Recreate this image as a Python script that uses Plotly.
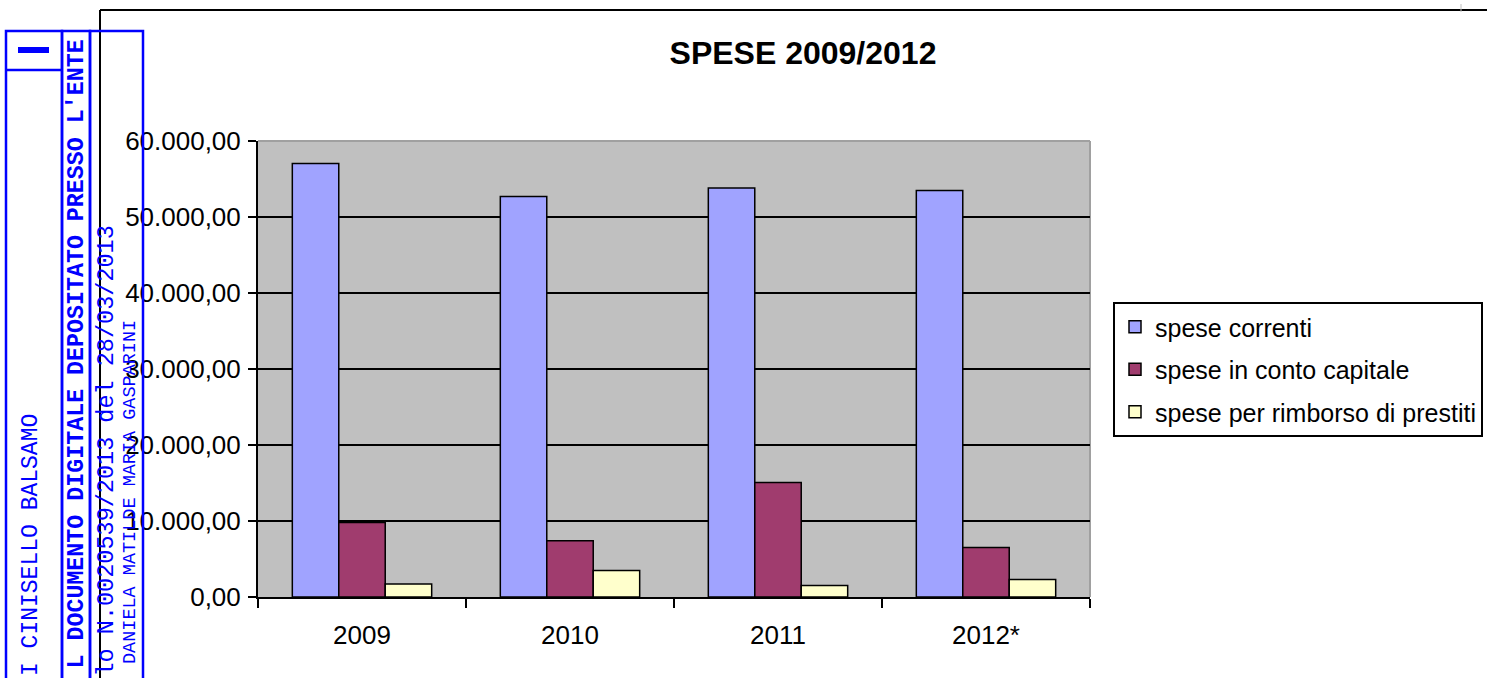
import plotly.graph_objects as go

# ---- data ----
years = ["2009", "2010", "2011", "2012*"]
spese_correnti = [57050, 52700, 53800, 53500]
spese_conto_capitale = [9800, 7400, 15050, 6500]
spese_rimborso_prestiti = [1700, 3500, 1500, 2300]
series_names = ["spese correnti", "spese in conto capitale", "spese per rimborso di prestiti"]
series_colors = ["#A0A3FF", "#A03C6E", "#FFFFCC"]
y_ticks = [0, 10000, 20000, 30000, 40000, 50000, 60000]

W, H = 1487, 678
PL, PR, PT, PB = 258, 1090, 141, 597  # plot area in pixels


def px(X):
    return (X - PL) / (PR - PL)


def py(Y):
    return (PB - Y) / (PB - PT)


fig = go.Figure()
for name, vals, col in zip(series_names,
                           [spese_correnti, spese_conto_capitale, spese_rimborso_prestiti],
                           series_colors):
    fig.add_trace(go.Bar(
        x=years, y=vals, name=name, legendgroup=name,
        marker=dict(color=col, line=dict(color="black", width=1.5)),
    ))

AX = dict(family="Liberation Sans, Arial, sans-serif", size=26, color="black")

fig.update_layout(
    width=W, height=H,
    margin=dict(l=PL, r=W - PR, t=PT, b=H - PB, autoexpand=False),
    paper_bgcolor="white",
    plot_bgcolor="#C0C0C0",
    barmode="group", bargap=0.33, bargroupgap=0,
    separators=",.",
    showlegend=True,
    title=dict(text="<b>SPESE 2009/2012</b>", x=803 / W, xanchor="center", xref="container",
               y=1 - 53 / H, yanchor="middle", yref="container",
               font=dict(family="Liberation Sans, Arial, sans-serif", size=32, color="black")),
    legend=dict(x=px(1113), y=py(302), xanchor="left", yanchor="top",
                bgcolor="white", bordercolor="black", borderwidth=2,
                font=dict(family="Liberation Sans, Arial, sans-serif", size=25, color="black"),
                tracegroupgap=7, traceorder="grouped"),
    xaxis=dict(showline=True, linecolor="black", linewidth=2,
               ticks="outside", ticklen=9, tickwidth=2, tickcolor="black",
               tickson="boundaries", tickfont=AX, ticklabelstandoff=14,
               showgrid=False, zeroline=False),
    yaxis=dict(range=[0, 60000], tickvals=y_ticks, tickformat=",.2f",
               showline=True, linecolor="black", linewidth=2,
               ticks="outside", ticklen=8, tickwidth=2, tickcolor="black",
               tickfont=AX, ticklabelstandoff=2,
               showgrid=True, gridcolor="black", gridwidth=2, zeroline=False),
)

shapes = []
# plot-area border (top/right grey)
shapes.append(dict(type="line", xref="paper", yref="paper", x0=0, x1=1, y0=1, y1=1,
                   line=dict(color="#A0A0A0", width=2), layer="below"))
shapes.append(dict(type="line", xref="paper", yref="paper", x0=1, x1=1, y0=0, y1=1,
                   line=dict(color="#A0A0A0", width=2), layer="below"))
# chart-area border
shapes.append(dict(type="line", xref="paper", yref="paper", x0=px(100), x1=px(1490), y0=py(10), y1=py(10),
                   line=dict(color="black", width=2)))
shapes.append(dict(type="line", xref="paper", yref="paper", x0=px(100), x1=px(100), y0=py(10), y1=py(690),
                   line=dict(color="black", width=2)))
shapes.append(dict(type="line", xref="paper", yref="paper", x0=px(1461), x1=px(1461), y0=py(4), y1=py(12),
                   line=dict(color="#C0C0C0", width=1)))

# stamp boxes (blue)
BLUE = "#0000FF"
for x0, x1 in [(6, 62), (62, 90), (90, 143)]:
    shapes.append(dict(type="rect", xref="paper", yref="paper",
                       x0=px(x0), x1=px(x1), y0=py(31), y1=py(690),
                       line=dict(color=BLUE, width=2.5), fillcolor="rgba(0,0,0,0)"))
shapes.append(dict(type="line", xref="paper", yref="paper", x0=px(6), x1=px(62), y0=py(70), y1=py(70),
                   line=dict(color=BLUE, width=2.5)))
shapes.append(dict(type="rect", xref="paper", yref="paper", x0=px(18), x1=px(49), y0=py(47), y1=py(53),
                   line=dict(color=BLUE, width=0), fillcolor=BLUE))
fig.update_layout(shapes=shapes)

MONO = "Courier New, Liberation Mono, monospace"
stamp = [
    ("I CINISELLO BALSAMO", 31, 412, 23, False),
    ("L DOCUMENTO DIGITALE DEPOSITATO PRESSO L'ENTE", 76, 38, 23.3, True),
    ("lo N.0020539/2013 del 28/03/2013", 106, 224, 23.5, False),
    ("DANIELA MATILDE MARIA GASPARINI", 130, 318, 18.5, False),
]
for txt, xc, ytop, size, bold in stamp:
    fig.add_annotation(text=("<b>%s</b>" % txt) if bold else txt,
                       xref="paper", yref="paper", x=px(xc), y=py(ytop),
                       xanchor="center", yanchor="top", textangle=-90, showarrow=False,
                       font=dict(family=MONO, size=size, color=BLUE))

fig.write_html("out.html", config={"displayModeBar": False},
               post_script="document.body.style.margin='0';document.body.style.overflow='hidden';")
